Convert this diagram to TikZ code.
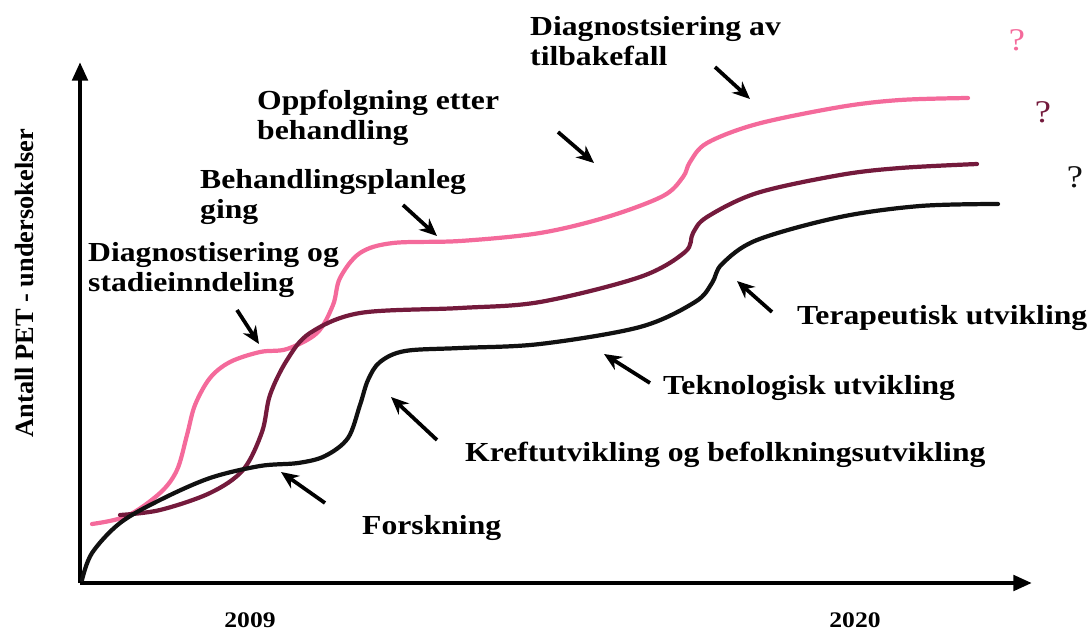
\documentclass[tikz,border=0pt]{standalone}
\usepackage{fontspec}
\setmainfont{Liberation Serif}[FakeStretch=1.15]
\newfontfamily\axisfont{Liberation Serif}
\usepackage{xcolor}
\usepackage{tikz}
\usetikzlibrary{positioning, arrows.meta, calc}
\definecolor{petpink}{HTML}{F46A9B}
\definecolor{petmaroon}{HTML}{741A3C}
\definecolor{petblack}{HTML}{111111}

\begin{document}
\begin{tikzpicture}[x=0.03cm, y=-0.03cm,
    curve/.style={line width=3.6pt, line cap=round, smooth, tension=0.55},
    pointer/.style={line width=3.2pt, -{Stealth[length=15pt, width=13pt]}},
    lbl/.style={anchor=west, inner sep=0pt, align=left, font=\bfseries\fontsize{23.5}{26}\selectfont}]
    \useasboundingbox (0,0) rectangle (1088,635);

    % axes
    \coordinate (origin) at (80,583);
    \coordinate (ytop) at (80,62);
    \coordinate (xend) at (1032,583);
    \draw[line width=3.8pt, -{Triangle[length=16pt, width=13pt]}] (origin) -- (ytop);
    \draw[line width=3.8pt, -{Triangle[length=16pt, width=13pt]}] (origin) -- (xend);
    \node[rotate=90, font=\axisfont\bfseries\fontsize{22.5}{26}\selectfont] (ylabel) at (25,283) {Antall PET - undersokelser};
    \node[inner sep=0pt, font=\bfseries\fontsize{19}{22}\selectfont] (y2009) at (250,620) {2009};
    \node[inner sep=0pt, font=\bfseries\fontsize{19}{22}\selectfont] (y2020) at (855,620) {2020};

    % the three curves
    \draw[curve, petpink] plot coordinates {(92,524) (127,516) (160,493) (177,470) (187,435)
      (195,405) (210,378) (230,362) (260,352) (287,349) (317,333) (333,305) (340,278)
      (360,253) (393,243) (460,241) (540,233) (607,217) (663,196) (683,177) (690,162)
      (707,143) (757,124) (840,107) (900,100) (968,98)};
    \draw[curve, petmaroon] plot coordinates {(120,515) (160,510) (210,493) (243,470) (262,432)
      (270,395) (287,360) (310,333) (360,313) (460,308) (540,302) (640,277) (685,252)
      (693,233) (707,217) (757,193) (840,175) (900,168) (977,164)};
    \draw[curve, petblack] plot coordinates {(82,580) (92,553) (120,523) (160,500) (210,478)
      (260,466) (298,463) (325,456) (348,438) (360,405) (368,380) (380,362) (405,351)
      (460,348) (540,344) (640,327) (695,302) (712,283) (722,264) (757,240) (840,217)
      (920,206) (998,204)};

    % question marks
    \node[text=petpink, font=\fontsize{27}{30}\selectfont] (qpink) at (1017,40) {?};
    \node[text=petmaroon, font=\fontsize{27}{30}\selectfont] (qmaroon) at (1043,112) {?};
    \node[text=petblack, font=\fontsize{27}{30}\selectfont] (qblack) at (1075,177) {?};

    % labels above the curves
    \node[lbl] (tilbake) at (530,41) {Diagnostsiering av\\tilbakefall};
    \node[lbl] (oppf) at (257,118) {Oppfolgning etter\\behandling};
    \node[lbl] (planl) at (200,197) {Behandlingsplanleg\\ging};
    \node[lbl] (diagn) at (88,270) {Diagnostisering og\\stadieinndeling};

    % labels below the curves
    \node[lbl] (terap) at (797,318) {Terapeutisk utvikling};
    \node[lbl] (tekno) at (663,388) {Teknologisk utvikling};
    \node[lbl] (kreft) at (465,455) {Kreftutvikling og befolkningsutvikling};
    \node[lbl] (forsk) at (362,528) {Forskning};

    % pointers
    \coordinate (diagnA) at (237,310);  \coordinate (diagnB) at (259,344);
    \coordinate (planlA) at (403,205);  \coordinate (planlB) at (437,236);
    \coordinate (oppfA) at (558,132);   \coordinate (oppfB) at (594,163);
    \coordinate (tilbA) at (715,67);    \coordinate (tilbB) at (750,99);
    \coordinate (forskA) at (325,503);  \coordinate (forskB) at (281,472);
    \coordinate (kreftA) at (437,440);  \coordinate (kreftB) at (391,397);
    \coordinate (teknoA) at (650,383);  \coordinate (teknoB) at (604,354);
    \coordinate (terapA) at (772,312);  \coordinate (terapB) at (737,281);
    \foreach \p in {diagn, planl, oppf, tilb, forsk, kreft, tekno, terap}
      \draw[pointer] (\p A) -- (\p B);
  \end{tikzpicture}
\end{document}
